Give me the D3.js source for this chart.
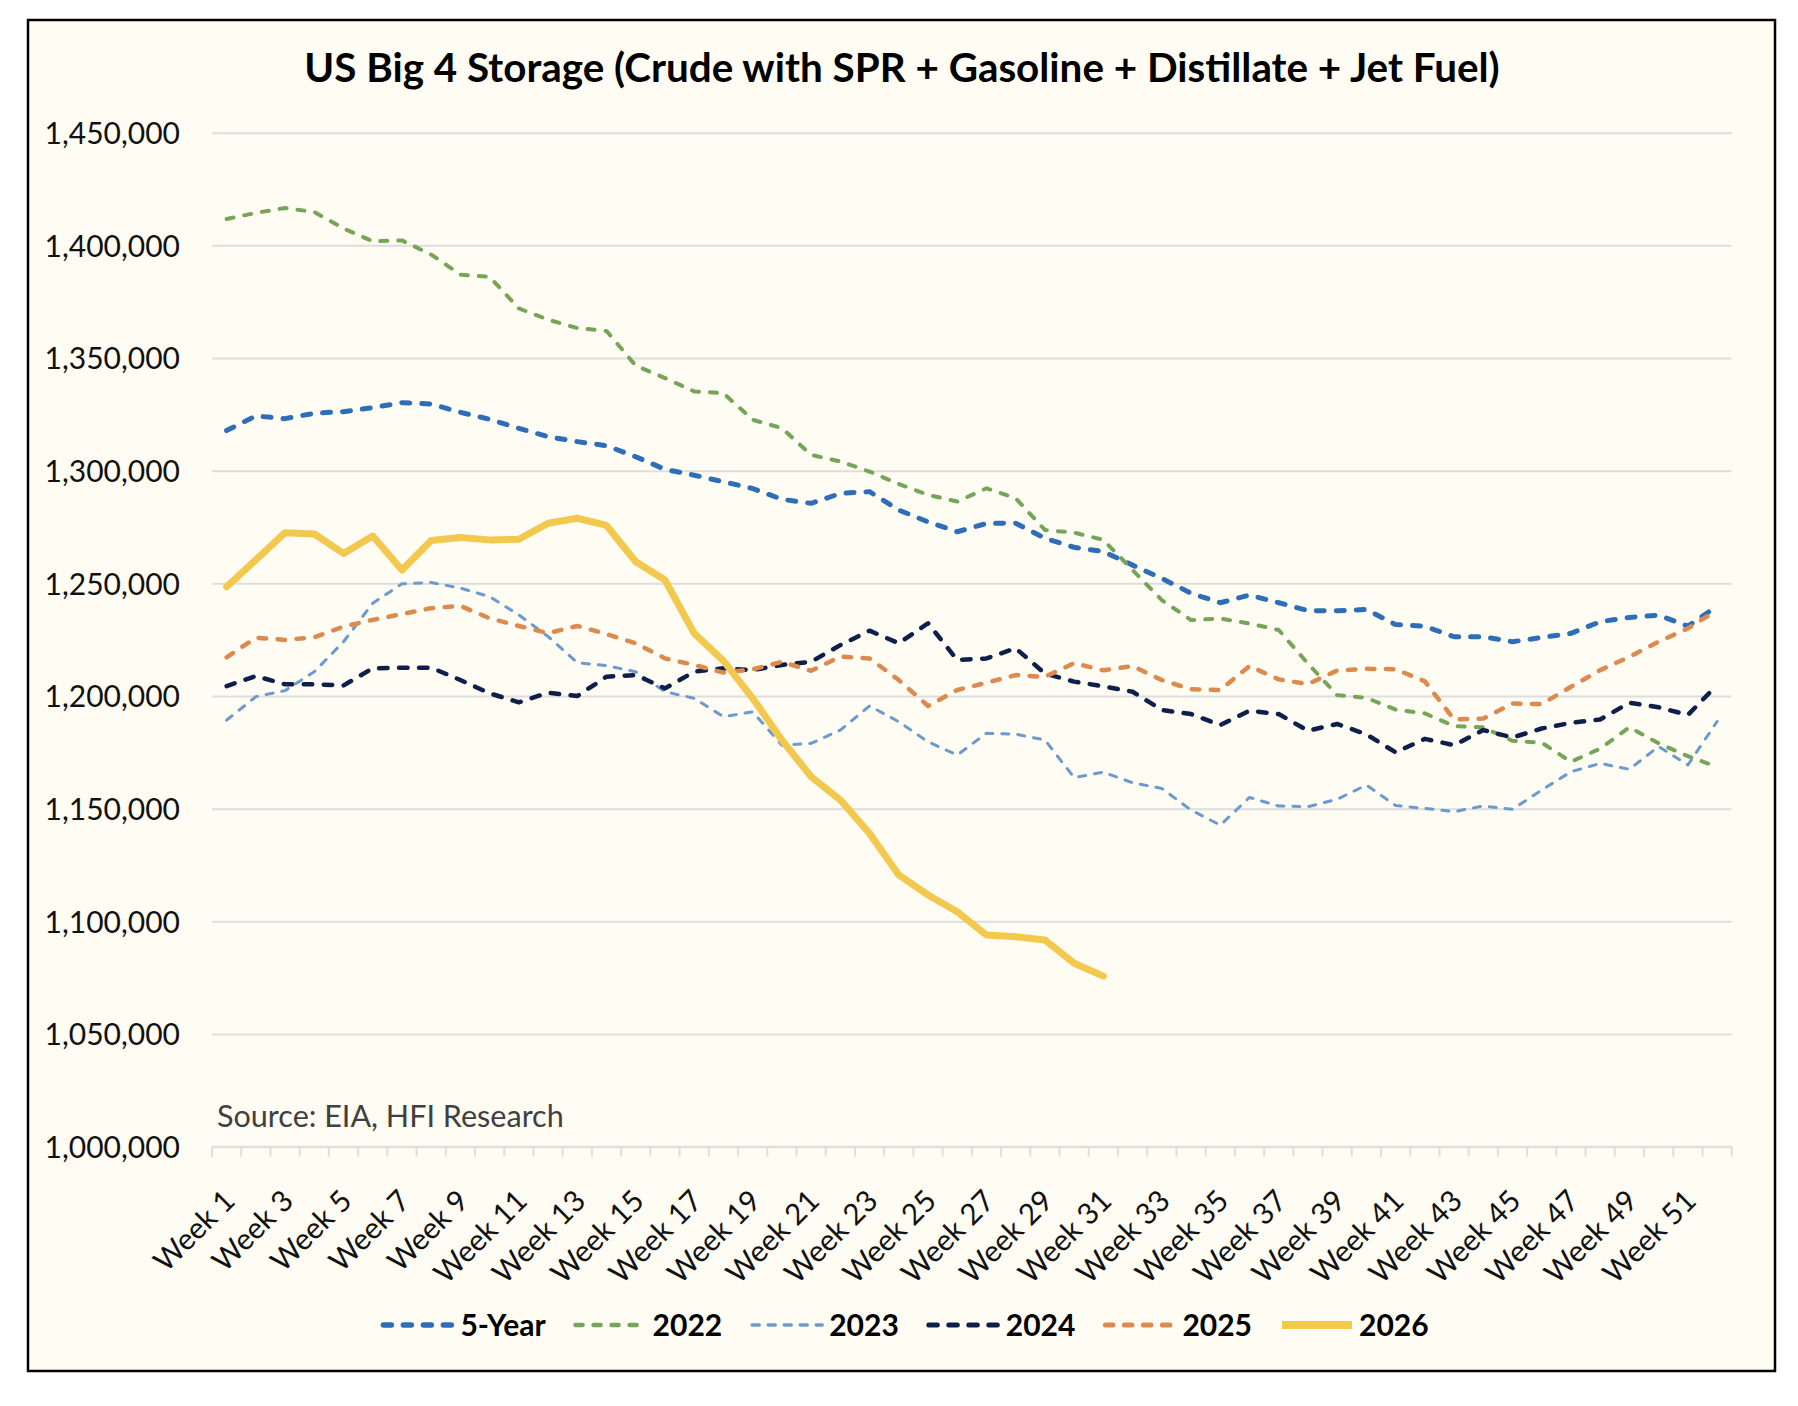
<!DOCTYPE html>
<html><head><meta charset="utf-8">
<script src="https://cdn.jsdelivr.net/npm/d3@7"></script>
<style>html,body{margin:0;padding:0;background:#fff;} svg{display:block;}</style>
</head><body>
<svg id="chart" width="1798" height="1406"></svg>
<script>
// ---------- DATA ----------
const weeks = d3.range(1, 53).map(i => "Week " + i);
const yTicks = [1000000, 1050000, 1100000, 1150000, 1200000, 1250000, 1300000, 1350000, 1400000, 1450000];
const seriesNames = ["5-Year", "2022", "2023", "2024", "2025", "2026"];

const fiveYear = [1317.8,1324.3,1323.1,1325.5,1326.2,1328,1330.2,1329.6,1325.9,1322.8,1318.8,1315.1,1312.9,1311.1,1306.2,1300.6,1298,1295.1,1292.1,1287.3,1285.5,1289.9,1290.7,1282.5,1277.3,1272.9,1276.6,1276.7,1270,1266,1264.1,1258.1,1252.2,1245.6,1241.4,1244.8,1241.4,1237.9,1237.8,1238.4,1231.7,1231,1226.3,1226.3,1224.1,1226,1227.8,1233,1234.9,1235.9,1231,1239.9];
const y2022 = [1411.7,1414.4,1416.6,1414.8,1407.5,1401.8,1402.2,1395.9,1387,1386,1372,1367,1363.3,1362,1346.6,1341.1,1335.2,1334.4,1322.6,1318.9,1307,1304.1,1299.6,1294.1,1289.3,1286.3,1292.2,1287.8,1273.7,1272.5,1269.3,1255.9,1242.6,1233.7,1234.4,1232.2,1229.3,1214.4,1200.4,1199.2,1194,1192.3,1186.7,1186.1,1180.1,1179.3,1170.8,1176.7,1186.1,1179,1173.3,1168.6];
const y2023 = [1189.3,1199.7,1202.4,1210.8,1224.1,1241.2,1249.8,1250.4,1247.9,1244.1,1236,1226.4,1214.8,1213.5,1210.8,1201.9,1199,1190.8,1193,1178.2,1179,1184.9,1195.6,1188.6,1179.7,1173.8,1183.5,1183.1,1180.5,1163.8,1166.2,1161.5,1159,1149.4,1142.7,1155,1151.2,1150.9,1154.2,1160.5,1151.4,1150.1,1148.7,1151.2,1149.7,1158.3,1166.4,1170.1,1167.5,1177.6,1169.4,1188.7];
const y2024 = [1204.4,1208.9,1205.2,1205.2,1204.7,1212.3,1212.6,1212.6,1207.1,1201.2,1197.2,1201.5,1200,1208.6,1209.3,1203.4,1210.8,1212.3,1211.5,1213.8,1215.2,1222.6,1229,1223.4,1232.3,1216,1216.7,1221.2,1210,1206.4,1204.3,1201.9,1193.8,1192,1187.1,1193.5,1192,1184.6,1187.6,1183,1175,1181,1178.2,1184.9,1181.6,1185.6,1188.1,1189.6,1197,1195,1191.6,1204.9];
const y2025 = [1217.2,1225.9,1224.9,1226.1,1230.8,1233.8,1236.4,1239,1240,1234.5,1231.1,1227.9,1231.1,1227.5,1223.4,1216.7,1213.8,1210.4,1211.8,1215.2,1211.2,1217.5,1216.7,1207.1,1195.6,1202.7,1205.9,1209.3,1208.5,1214.6,1211.4,1213.3,1207.1,1203,1202.7,1213.3,1207.4,1205.3,1211.3,1212.1,1211.9,1206.5,1189.6,1190,1196.7,1196.4,1204.1,1211.5,1217.4,1224.1,1230,1238.1];
const y2026 = [1248.5,1260.4,1272.5,1271.9,1263.3,1271,1255.9,1269,1270.4,1269.3,1269.6,1276.7,1278.9,1275.7,1259.6,1251.5,1227.8,1215.6,1199,1180.5,1164.2,1153.9,1139,1120.6,1111.7,1104.3,1093.9,1093.2,1091.7,1081.4,1075.7];

const seriesValues = [fiveYear, y2022, y2023, y2024, y2025, y2026];

// ---------- STYLES ----------
const styles = {
  "5-Year": {color: "#2E6EB8", width: 5,   dash: "8 12"},
  "2022":   {color: "#76A557", width: 4,   dash: "7 11"},
  "2023":   {color: "#6C9ACF", width: 3,   dash: "7 9"},
  "2024":   {color: "#0F1F4B", width: 4.5, dash: "8.5 11.5"},
  "2025":   {color: "#DC8A4E", width: 4.5, dash: "7.5 11.5"},
  "2026":   {color: "#F2C94E", width: 7,   dash: null}
};
const FONT = "Lato, 'Open Sans', sans-serif";

const svg = d3.select("#chart");
svg.append("rect").attr("x", 0).attr("y", 0).attr("width", 1798).attr("height", 1406).attr("fill", "#ffffff");
svg.append("rect").attr("x", 28).attr("y", 20).attr("width", 1747).attr("height", 1351)
  .attr("fill", "#FEFCF3").attr("stroke", "#000").attr("stroke-width", 2.5);

const plot = {left: 212, right: 1731.7, top: 132.7, bottom: 1146.7};
const x = d3.scaleBand().domain(weeks).range([plot.left, plot.right]).padding(0);
const y = d3.scaleLinear().domain([1000000, 1450000]).range([plot.bottom, plot.top]);
const cx = w => x(w) + x.bandwidth() / 2;

// gridlines + y labels
const yAxis = d3.axisLeft(y).tickValues(yTicks).tickFormat(d3.format(",")).tickSize(-(plot.right - plot.left)).tickPadding(32);
const gy = svg.append("g").attr("transform", `translate(${plot.left},0)`).call(yAxis);
gy.select(".domain").remove();
gy.selectAll(".tick line").attr("stroke", "#DEDEDE").attr("stroke-width", 2);
gy.selectAll(".tick text").attr("font-family", FONT).attr("font-size", 30).attr("fill", "#111").attr("dy", "0.36em");

// x axis
const gx = svg.append("g");
gx.append("line").attr("x1", plot.left).attr("x2", plot.right).attr("y1", plot.bottom).attr("y2", plot.bottom)
  .attr("stroke", "#DEDEDE").attr("stroke-width", 2);
const boundaries = weeks.map(w => x(w)).concat([plot.right]);
gx.selectAll("line.tk").data(boundaries).join("line").attr("class", "tk")
  .attr("x1", d => d).attr("x2", d => d).attr("y1", plot.bottom).attr("y2", plot.bottom + 10)
  .attr("stroke", "#DEDEDE").attr("stroke-width", 2);
gx.selectAll("text").data(weeks.filter((w, i) => i % 2 === 0)).join("text")
  .attr("transform", w => `translate(${cx(w) + 10},${plot.bottom + 56}) rotate(-45)`)
  .attr("text-anchor", "end").attr("font-family", FONT).attr("font-size", 29.5).attr("fill", "#111")
  .text(w => w);

// lines
const line = d3.line().x((d, i) => cx(weeks[i])).y(d => y(d * 1000)).curve(d3.curveLinear);
seriesNames.forEach((name, k) => {
  const st = styles[name];
  svg.append("path").datum(seriesValues[k]).attr("d", line)
    .attr("fill", "none").attr("stroke", st.color).attr("stroke-width", st.width)
    .attr("stroke-linecap", "round").attr("stroke-linejoin", "round")
    .attr("stroke-dasharray", st.dash);
});

function fit(sel, target) {
  const w = sel.node().getComputedTextLength();
  const fs = parseFloat(sel.attr("font-size"));
  sel.attr("font-size", fs * target / w);
}

// title
const title = svg.append("text").attr("x", 902).attr("y", 82).attr("text-anchor", "middle")
  .attr("font-family", FONT).attr("font-weight", "bold").attr("font-size", 36).attr("fill", "#000")
  .text("US Big 4 Storage (Crude with SPR + Gasoline + Distillate + Jet Fuel)");
fit(title, 1196);

// source
const src = svg.append("text").attr("x", 217).attr("y", 1127)
  .attr("font-family", FONT).attr("font-size", 30).attr("fill", "#404040")
  .text("Source: EIA, HFI Research");
fit(src, 347);

// legend
const lg = svg.append("g");
const sampleLen = 70, gapText = 7, gapItem = 30, legY = 1325;
const items = seriesNames.map(name => {
  const g = lg.append("g");
  const st = styles[name];
  g.append("line").attr("x1", 0).attr("x2", sampleLen).attr("y1", 0).attr("y2", 0)
    .attr("stroke", st.color).attr("stroke-width", name === "2026" ? 8 : st.width + 0.5)
    .attr("stroke-linecap", name === "2026" ? "butt" : "round")
    .attr("stroke-dasharray", st.dash);
  const t = g.append("text").attr("x", sampleLen + gapText).attr("y", 0).attr("dy", "0.36em")
    .attr("font-family", FONT).attr("font-weight", "bold").attr("font-size", 30).attr("fill", "#000").text(name);
  return {g, w: sampleLen + gapText + t.node().getComputedTextLength()};
});
const total = d3.sum(items, d => d.w) + gapItem * (items.length - 1);
let cur = 906 - total / 2;
items.forEach(it => { it.g.attr("transform", `translate(${cur},${legY})`); cur += it.w + gapItem; });
</script>
</body></html>
